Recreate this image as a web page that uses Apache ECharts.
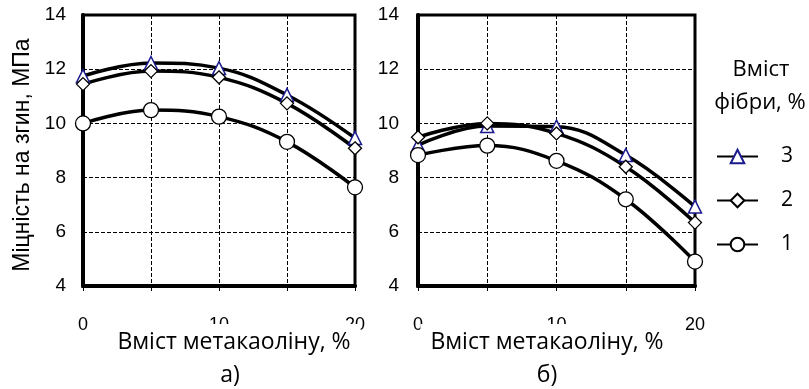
<!DOCTYPE html>
<html>
<head>
<meta charset="utf-8">
<script src="https://cdn.jsdelivr.net/npm/echarts@6/dist/echarts.min.js"></script>
<style>
html,body{margin:0;padding:0;background:#fff;}
#main{width:809px;height:389px;}
</style>
</head>
<body>
<div id="main"></div>
<script>
// Data
const xValues = [0, 5, 10, 15, 20];
const seriesNames = ['3', '2', '1'];
// chart а)
const a3 = [11.75, 12.23, 12.04, 11.05, 9.46];
const a2 = [11.45, 11.93, 11.70, 10.74, 9.08];
const a1 = [10.00, 10.49, 10.25, 9.32, 7.64];
// chart б)
const b3 = [9.20, 9.90, 9.88, 8.83, 6.93];
const b2 = [9.49, 10.00, 9.63, 8.40, 6.34];
const b1 = [8.83, 9.18, 8.62, 7.20, 4.90];
const yTicks = [4, 6, 8, 10, 12, 14];
const xLabelsShown = [0, 10, 20];

const yAxisTitle = 'Міцність на згин, МПа';
const xAxisTitle = 'Вміст метакаоліну, %';
const panelLabels = ['а)', 'б)'];
const legendTitle = ['Вміст', 'фібри, %'];

const chart = echarts.init(document.getElementById('main'), null, {renderer: 'canvas'});

const pairs = (arr) => xValues.map((x, i) => [x, arr[i]]);
const calFont = '"Open Sans", sans-serif';
const arialFont = '"Liberation Sans", Arial, sans-serif';

const markerStyles = {
  '3': {symbol: 'triangle', symbolSize: 13, itemStyle: {color: '#fff', borderColor: '#1a1a8f', borderWidth: 1.5}},
  '2': {symbol: 'diamond', symbolSize: 13, itemStyle: {color: '#fff', borderColor: '#000', borderWidth: 1.3}},
  '1': {symbol: 'circle', symbolSize: 15, itemStyle: {color: '#fff', borderColor: '#000', borderWidth: 1.3}}
};

function mkSeries(name, data, idx) {
  const m = markerStyles[name];
  return {
    type: 'line',
    name: name,
    xAxisIndex: idx,
    yAxisIndex: idx,
    data: pairs(data),
    smooth: 0.4,
    symbol: m.symbol,
    symbolSize: m.symbolSize,
    showAllSymbol: true,
    lineStyle: {color: '#000', width: 3.5},
    itemStyle: m.itemStyle,
    emphasis: {disabled: true},
    animation: false
  };
}

function mkX(idx) {
  return {
    type: 'value', gridIndex: idx, min: 0, max: 20, interval: 5,
    axisLine: {show: true, lineStyle: {color: '#000', width: 4}},
    axisTick: {show: true, length: 5, lineStyle: {color: '#000', width: 1}},
    axisLabel: {
      margin: 30, fontSize: 18, fontFamily: arialFont, color: '#000',
      formatter: v => xLabelsShown.indexOf(v) >= 0 ? String(v) : ''
    },
    splitLine: {show: true, lineStyle: {color: '#000', width: 1, type: [4, 2]}}
  };
}
function mkY(idx, margin) {
  return {
    type: 'value', gridIndex: idx, min: yTicks[0], max: yTicks[yTicks.length - 1], interval: 2,
    axisLine: {show: true, lineStyle: {color: '#000', width: 4}},
    axisTick: {show: false},
    axisLabel: {margin: margin, fontSize: 19, fontFamily: arialFont, color: '#000', padding: [5, 0, 0, 0]},
    splitLine: {show: true, lineStyle: {color: '#000', width: 1, type: [4, 2]}}
  };
}

const option = {
  backgroundColor: '#fff',
  animation: false,
  grid: [
    {left: 83, top: 15, width: 272, height: 271, show: true, borderColor: '#000', borderWidth: 3, containLabel: false},
    {left: 418, top: 15, width: 277, height: 271, show: true, borderColor: '#000', borderWidth: 3, containLabel: false}
  ],
  xAxis: [mkX(0), mkX(1)],
  yAxis: [mkY(0, 17), mkY(1, 19)],
  legend: {
    orient: 'vertical',
    left: 711, top: 141,
    data: seriesNames,
    itemWidth: 41, itemHeight: 17, itemGap: 23,
    textStyle: {fontSize: 21, fontFamily: calFont, color: '#000', padding: [0, 0, 0, 18]},
    selectedMode: false
  },
  series: [
    mkSeries('3', a3, 0), mkSeries('2', a2, 0), mkSeries('1', a1, 0),
    mkSeries('3', b3, 1), mkSeries('2', b2, 1), mkSeries('1', b1, 1)
  ],
  graphic: [
    {type: 'text', z: 100, x: 234, y: 342, style: {text: xAxisTitle, font: '23px ' + calFont, fill: '#000', align: 'center', verticalAlign: 'middle', backgroundColor: '#fff', padding: [9, 10, 4, 10]}},
    {type: 'text', z: 100, x: 547, y: 342, style: {text: xAxisTitle, font: '23px ' + calFont, fill: '#000', align: 'center', verticalAlign: 'middle', backgroundColor: '#fff', padding: [9, 10, 4, 10]}},
    {type: 'text', z: 100, x: 230, y: 375, style: {text: panelLabels[0], font: '23px ' + calFont, fill: '#000', align: 'center', verticalAlign: 'middle'}},
    {type: 'text', z: 100, x: 547, y: 375, style: {text: panelLabels[1], font: '23px ' + calFont, fill: '#000', align: 'center', verticalAlign: 'middle'}},
    {type: 'text', z: 100, x: 23, y: 155, rotation: Math.PI / 2, style: {text: yAxisTitle, font: '23px ' + arialFont, fill: '#000', align: 'center', verticalAlign: 'middle'}},
    {type: 'text', z: 100, x: 761, y: 70, style: {text: legendTitle[0], font: '22px ' + calFont, fill: '#000', align: 'center', verticalAlign: 'middle'}},
    {type: 'text', z: 100, x: 760, y: 103, style: {text: legendTitle[1], font: '22px ' + calFont, fill: '#000', align: 'center', verticalAlign: 'middle'}}
  ]
};
chart.setOption(option);
</script>
</body>
</html>
